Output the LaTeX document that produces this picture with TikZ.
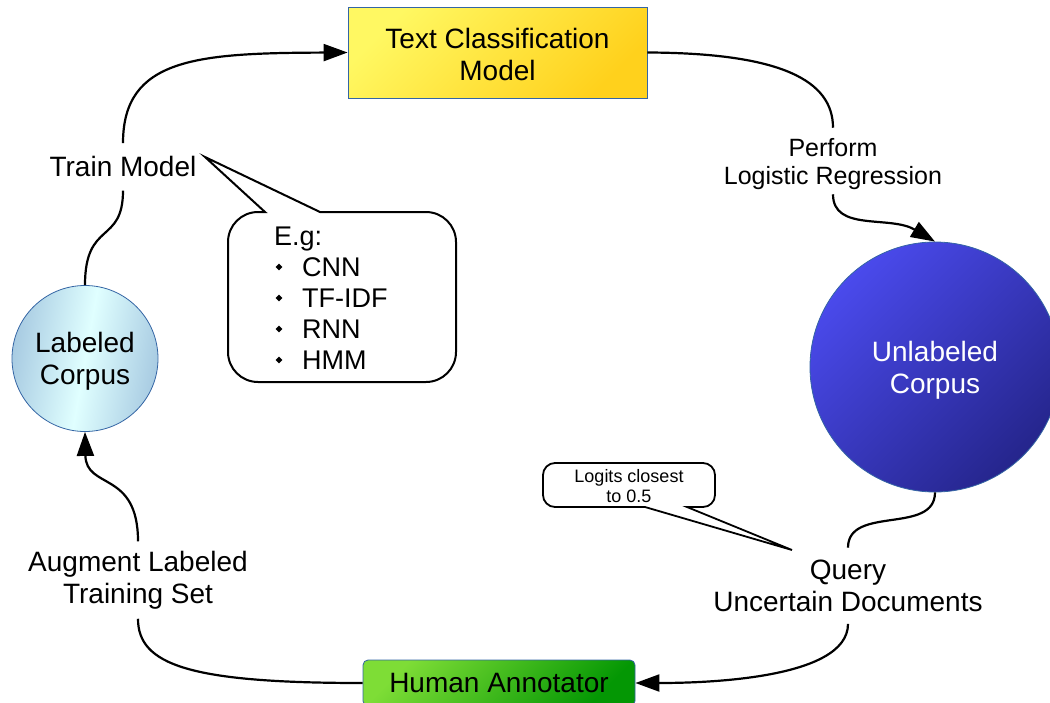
\documentclass[tikz,border=0pt]{standalone}
\usepackage{fontspec}
\setmainfont{Liberation Sans}
\usetikzlibrary{arrows.meta,shapes.geometric}
\definecolor{yelA}{HTML}{FFF862}
\definecolor{yelB}{HTML}{FFD11C}
\definecolor{grnA}{HTML}{7EDD36}
\definecolor{grnB}{HTML}{049704}
\definecolor{lbA}{HTML}{A8CBE2}
\definecolor{lbB}{HTML}{E0FFFF}
\definecolor{dbA}{HTML}{4A4AEC}
\definecolor{dbB}{HTML}{25258C}
\definecolor{edgeblue}{HTML}{3465A4}
\newcommand{\topstrut}[1]{\rule{0pt}{#1}}
\begin{document}
\begin{tikzpicture}[x=1pt,y=-1pt,
  big/.style={font=\fontsize{28}{32}\selectfont},
  lbl/.style={big, align=center, inner xsep=0pt},
  conn/.style={line width=2.2pt},
  arr/.style={conn, -{Triangle[length=24pt,width=17pt]}},
  bubble/.style={line width=2pt, fill=white, line join=miter},
  item/.style={font=\fontsize{27}{31}\selectfont, anchor=base west, inner sep=0pt},
  dot/.style={diamond, fill=black, inner sep=0pt, minimum size=7pt},
]
\useasboundingbox (0,0) rectangle (1050,702);

% main nodes
\node[draw=edgeblue, line width=0.8pt, minimum width=299, minimum height=91, inner sep=0pt,
      top color=yelA, bottom color=yelB, shading angle=45, lbl] (tcm) at (497.5,52.5) {\topstrut{23.4pt}Text Classification\\Model};
\node[draw=edgeblue, line width=0.8pt, circle, minimum size=146, inner sep=0pt,
      top color=lbA, bottom color=lbA, middle color=lbB, shading angle=80, lbl] (lc) at (85,358.5) {\topstrut{26.6pt}Labeled\\Corpus};
\node[draw=edgeblue, line width=0.8pt, circle, minimum size=250, inner sep=0pt,
      top color=dbA, bottom color=dbB, shading angle=45, lbl, text=white] (uc) at (935,367) {\topstrut{26.6pt}Unlabeled\\Corpus};
\node[draw=edgeblue, line width=0.8pt, rounded corners=5pt, minimum width=272, minimum height=46, inner sep=0pt,
      top color=grnA, bottom color=grnB, shading angle=45, big] (ha) at (499,683) {Human Annotator};

% connector labels
\node[lbl, inner ysep=13.3pt] (tm) at (123,166.8) {Train Model};
\node[lbl, font=\fontsize{25}{28.75}\selectfont, inner ysep=4pt] (plr) at (833,161) {\topstrut{24.2pt}Perform\\Logistic Regression};
\node[lbl, inner ysep=12pt] (q) at (848,585.8) {Query\\Uncertain Documents};
\node[lbl, inner ysep=9.5pt] (aug) at (138,580) {Augment Labeled\\Training Set};

% connectors
\draw[conn] (lc.north) .. controls (85,220) and (123,245) .. (tm.south);
\draw[arr] (tm.north) .. controls (123,58) and (197,53) .. (tcm.west);
\draw[conn] (tcm.east) .. controls (780,53) and (833,80) .. (plr.north);
\draw[arr] (plr.south) .. controls (833,232) and (890,215) .. (uc.north);
\draw[conn] (uc.south) .. controls (935,535) and (848,505) .. (q.north);
\draw[arr] (q.south) .. controls (848,680) and (700,683) .. (ha.east);
\draw[conn] (ha.west) .. controls (190,683) and (138,665) .. (aug.south);
\draw[arr] (aug.north) .. controls (138,470) and (86,490) .. (lc.south);

% callout 1
\draw[bubble] (320,212) -- (426,212) arc[start angle=90, end angle=0, radius=30pt]
  -- (456,352) arc[start angle=0, end angle=-90, radius=30pt]
  -- (258,382) arc[start angle=-90, end angle=-180, radius=30pt]
  -- (228,242) arc[start angle=180, end angle=90, radius=30pt]
  -- (265,212) -- (205,157) -- cycle;
\node[item] (eg) at (274,245) {E.g:};
\node[dot] (d1) at (279,267) {};
\node[dot] (d2) at (279,298) {};
\node[dot] (d3) at (279,329) {};
\node[dot] (d4) at (279,360) {};
\node[item] (i1) at (302,276.5) {CNN};
\node[item] (i2) at (302,307.5) {TF-IDF};
\node[item] (i3) at (302,338.5) {RNN};
\node[item] (i4) at (302,369.5) {HMM};

% callout 2
\draw[bubble, line width=1.8pt] (687,507) -- (703,507) arc[start angle=-90, end angle=0, radius=12pt]
  -- (715,475) arc[start angle=0, end angle=90, radius=12pt]
  -- (555,463) arc[start angle=90, end angle=180, radius=12pt]
  -- (543,495) arc[start angle=180, end angle=270, radius=12pt]
  -- (645,507) -- (792,550) -- cycle;
\node[font=\fontsize{18}{20}\selectfont, align=center, inner sep=0pt] (lg) at (629,486) {Logits closest\\to 0.5};
\end{tikzpicture}
\end{document}
